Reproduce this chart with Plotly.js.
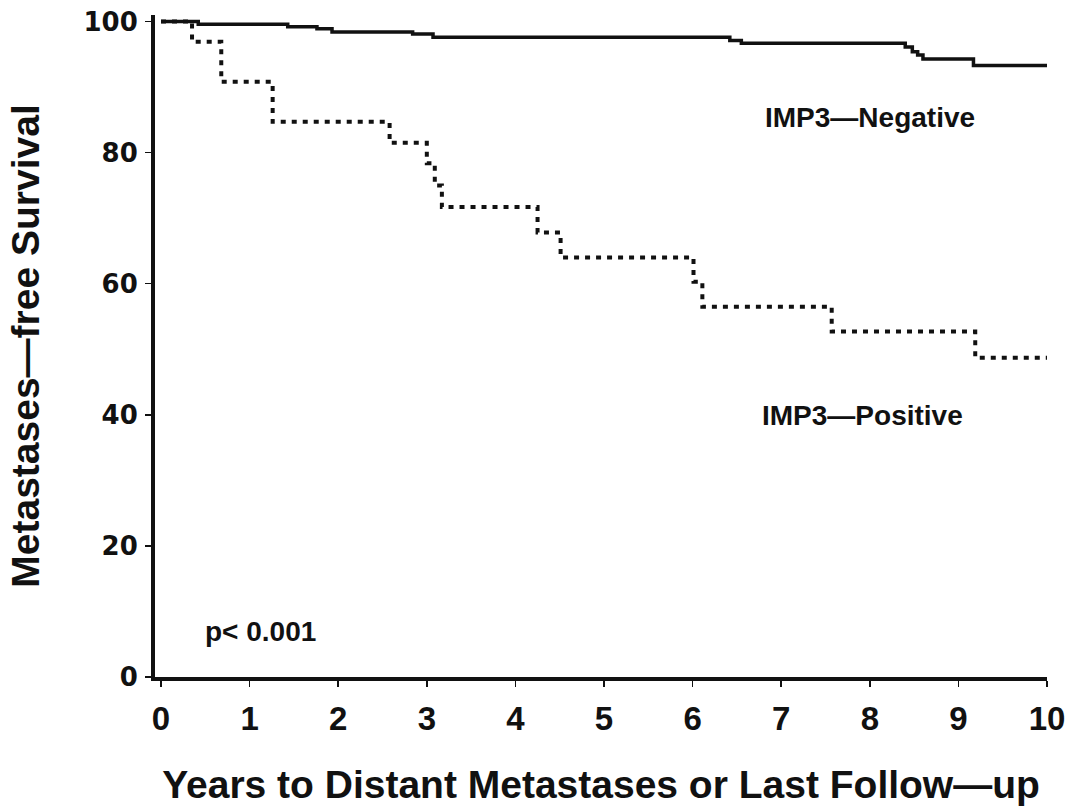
<!DOCTYPE html>
<html>
<head>
<meta charset="utf-8">
<script src="https://cdn.plot.ly/plotly-3.0.1.min.js"></script>
<style>html,body{margin:0;padding:0;background:#fff;}#chart{width:1075px;height:808px;}</style>
</head>
<body>
<div id="chart"></div>
<script>
// Kaplan-Meier step data
const negTime = [0, 0.42, 1.43, 1.76, 1.93, 2.84, 3.07, 6.42, 6.55, 8.40, 8.48, 8.54, 8.60, 9.17, 10];
const negSurv = [100, 99.6, 99.2, 98.9, 98.4, 98.1, 97.6, 97.1, 96.7, 96.1, 95.4, 94.9, 94.3, 93.3, 93.3];
const posTime = [0, 0.35, 0.68, 1.26, 2.58, 3.00, 3.09, 3.17, 4.25, 4.51, 6.01, 6.11, 7.57, 9.19, 10];
const posSurv = [100, 96.9, 90.8, 84.7, 81.5, 78.4, 75.0, 71.7, 67.8, 64.0, 60.3, 56.5, 52.7, 48.7, 48.7];
const xTicks = [0,1,2,3,4,5,6,7,8,9,10];
const yTicks = [0,20,40,60,80,100];
const labelNeg = "IMP3\u2014Negative";
const labelPos = "IMP3\u2014Positive";
const pText = "p< 0.001";

const traces = [
  {x: negTime, y: negSurv, type: 'scatter', mode: 'lines', name: labelNeg,
   line: {shape: 'hv', color: '#111', width: 3.5}},
  {x: posTime, y: posSurv, type: 'scatter', mode: 'lines', name: labelPos,
   line: {shape: 'hv', color: '#111', width: 4, dash: '5px,6px'}}
];

const layout = {
  width: 1075, height: 808,
  margin: {l: 155, r: 28, t: 15, b: 131},
  paper_bgcolor: '#fff', plot_bgcolor: '#fff',
  showlegend: false,
  font: {family: 'Liberation Sans, Arial, sans-serif', color: '#111'},
  xaxis: {
    range: [-0.068, 10], tickvals: xTicks, ticktext: xTicks.map(String),
    showgrid: false, zeroline: false, showline: true, linewidth: 4, linecolor: '#111',
    ticks: 'outside', ticklen: 6, tickwidth: 1.5, tickcolor: '#111',
    ticklabelstandoff: 3,
    tickfont: {family: 'Liberation Sans, Arial, sans-serif', size: 33, weight: 'bold', color: '#111'},
    title: {text: 'Years to Distant Metastases or Last Follow\u2014up', standoff: 36,
            font: {family: 'Liberation Sans, Arial, sans-serif', size: 39, weight: 'bold', color: '#111'}}
  },
  yaxis: {
    range: [0, 101], tickvals: yTicks, ticktext: yTicks.map(String),
    showgrid: false, zeroline: false, showline: true, linewidth: 4, linecolor: '#111',
    ticks: 'outside', ticklen: 6, tickwidth: 1.5, tickcolor: '#111',
    ticklabelstandoff: 2,
    tickfont: {family: 'DejaVu Sans, sans-serif', size: 26, weight: 'bold', color: '#111'},
    title: {text: 'Metastases\u2014free Survival', standoff: 33,
            font: {family: 'Liberation Sans, Arial, sans-serif', size: 39, weight: 'bold', color: '#111'}}
  },
  annotations: [
    {x: 6.79, y: 85.4, xref: 'x', yref: 'y', text: labelNeg, showarrow: false, xanchor: 'left', yanchor: 'middle',
     font: {family: 'Liberation Sans, Arial, sans-serif', size: 28, weight: 'bold', color: '#111'}},
    {x: 6.76, y: 39.9, xref: 'x', yref: 'y', text: labelPos, showarrow: false, xanchor: 'left', yanchor: 'middle',
     font: {family: 'Liberation Sans, Arial, sans-serif', size: 28, weight: 'bold', color: '#111'}},
    {x: 0.47, y: 6.9, xref: 'x', yref: 'y', text: pText, showarrow: false, xanchor: 'left', yanchor: 'middle',
     font: {family: 'Liberation Sans, Arial, sans-serif', size: 28, weight: 'bold', color: '#111'}}
  ]
};

Plotly.newPlot('chart', traces, layout, {displayModeBar: false, staticPlot: true});
</script>
</body>
</html>
